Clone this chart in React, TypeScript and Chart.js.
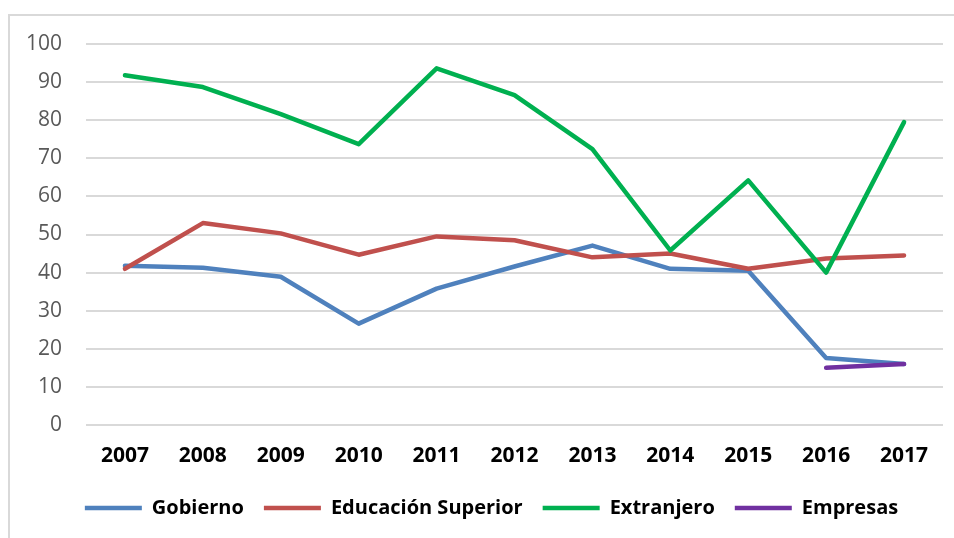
import React, { useEffect, useRef } from "react";
import { Chart, registerables } from "chart.js";

Chart.register(...registerables);

const years = ["2007", "2008", "2009", "2010", "2011", "2012", "2013", "2014", "2015", "2016", "2017"];
const gobierno = [41.8, 41.3, 38.9, 26.6, 35.8, 41.6, 47.1, 41.0, 40.5, 17.6, 16.0];
const educacionSuperior = [41.0, 53.0, 50.3, 44.7, 49.5, 48.5, 44.0, 45.0, 41.0, 43.7, 44.5];
const extranjero = [91.8, 88.7, 81.6, 73.7, 93.6, 86.6, 72.4, 45.8, 64.2, 40.0, 79.5];
const empresas = [null, null, null, null, null, null, null, null, null, 15.0, 16.0];
const yTicks = [0, 10, 20, 30, 40, 50, 60, 70, 80, 90, 100];

const FONT = "'Open Sans', 'Noto Sans', sans-serif";

const shiftLegend = {
  id: "shiftLegend",
  afterLayout(chart: any) {
    const lg = chart.legend;
    if (lg) {
      lg.left += 20;
      lg.right += 20;
    }
  },
};

export default function App() {
  const ref = useRef<HTMLCanvasElement>(null);
  useEffect(() => {
    if (!ref.current) return;
    const mk = (label: string, data: (number | null)[], color: string, order: number) => ({
      label,
      data,
      borderColor: color,
      backgroundColor: color,
      borderWidth: 4.5,
      borderCapStyle: "round" as const,
      borderJoinStyle: "round" as const,
      pointRadius: 0,
      tension: 0,
      order,
    });
    const chart = new Chart(ref.current, {
      type: "line",
      data: {
        labels: years,
        datasets: [
          mk("Gobierno", gobierno, "#4F81BD", 4),
          mk("Educación Superior", educacionSuperior, "#C0504D", 3),
          mk("Extranjero", extranjero, "#00B050", 2),
          mk("Empresas", empresas, "#7030A0", 1),
        ],
      },
      plugins: [shiftLegend],
      options: {
        responsive: false,
        animation: false,
        layout: { padding: { top: 44, right: 11, left: 0, bottom: 10 } },
        plugins: {
          tooltip: { enabled: false },
          legend: {
            position: "bottom",
            labels: {
              usePointStyle: true,
              pointStyle: "line",
              pointStyleWidth: 57,
              boxHeight: 20,
              padding: 20,
              color: "#000",
              font: { family: FONT, size: 20, weight: "bold" },
              sort: (a: any, b: any) => a.datasetIndex - b.datasetIndex,
            },
          },
        },
        scales: {
          x: {
            offset: true,
            grid: { display: false, drawTicks: false },
            border: { display: false },
            ticks: {
              padding: 18,
              color: "#000",
              font: { family: FONT, size: 21, weight: "bold" },
            },
            afterFit: (s: any) => {
              s.height = 53;
            },
          },
          y: {
            min: 0,
            max: 100,
            afterBuildTicks: (s: any) => {
              s.ticks = yTicks.map((v) => ({ value: v }));
            },
            grid: { color: "#d9d9d9", lineWidth: 2, drawTicks: false },
            border: { display: false },
            ticks: {
              padding: 24,
              color: "#595959",
              font: { family: FONT, size: 21 },
            },
            afterFit: (s: any) => {
              s.width = 86;
            },
          },
        },
      },
    });
    return () => chart.destroy();
  }, []);
  return (
    <div style={{ position: "fixed", left: 0, top: 0, width: 954, height: 538, overflow: "hidden", background: "#fff" }}>
      <div
        style={{
          position: "absolute",
          left: 8,
          top: 14,
          width: 1100,
          height: 700,
          border: "2px solid #d9d9d9",
        }}
      />
      <canvas ref={ref} width={954} height={538} style={{ position: "absolute", left: 0, top: 0 }} />
    </div>
  );
}
